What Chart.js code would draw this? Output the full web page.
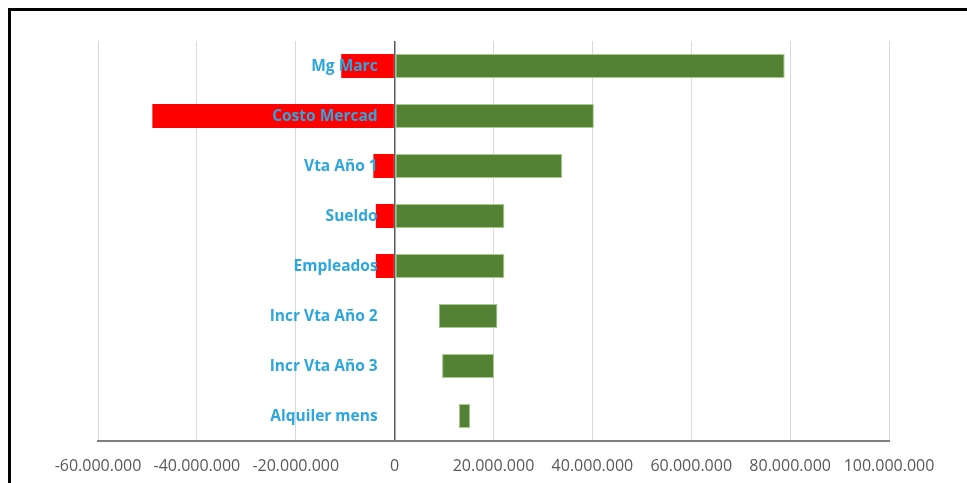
<!DOCTYPE html>
<html>
<head>
<meta charset="utf-8">
<script src="https://cdn.jsdelivr.net/npm/chart.js@4/dist/chart.umd.min.js"></script>
<style>
  html, body { margin: 0; padding: 0; background: #fff; }
  #wrap { position: relative; width: 967px; height: 483px; }
  #frame { position: absolute; left: 8px; top: 8px; right: 0; bottom: 0;
           border-left: 3px solid #000; border-top: 3px solid #000; pointer-events: none; }
</style>
</head>
<body>
<div id="wrap">
  <canvas id="tornado" width="967" height="483"></canvas>
  <div id="frame"></div>
</div>
<script>
// variables del gráfico tornado
const categorias = ['Mg Marc', 'Costo Mercad', 'Vta Año 1', 'Sueldo', 'Empleados',
                    'Incr Vta Año 2', 'Incr Vta Año 3', 'Alquiler mens'];
// tramo negativo (rojo): desde este valor hasta 0
const rojoDesde = [-10800000, -49000000, -4300000, -3800000, -3800000, null, null, null];
// tramo verde: inicio y fin
const verdeDesde = [0, 0, 0, 0, 0, 8900000, 9600000, 13000000];
const verdeHasta = [78900000, 40300000, 33900000, 22200000, 22200000, 20800000, 20100000, 15300000];

function formatoPuntos(v) {
    const s = String(Math.abs(v)).replace(/\B(?=(\d{3})+(?!\d))/g, '.');
    return (v < 0 ? '-' : '') + s;
}

// etiquetas de categoría junto al eje cero
const etiquetasCero = {
    id: 'etiquetasCero',
    afterDatasetsDraw(chart) {
        const ctx = chart.ctx;
        const x0 = chart.scales.x.getPixelForValue(0);
        ctx.save();
        ctx.font = 'bold 15.5px "Open Sans"';
        ctx.fillStyle = '#2ca6de';
        ctx.textAlign = 'right';
        ctx.textBaseline = 'middle';
        categorias.forEach(function(c, i) {
            ctx.fillText(c, x0 - 17, chart.scales.y.getPixelForValue(i) + 1);
        });
        ctx.restore();
    }
};

const ctx = document.getElementById('tornado').getContext('2d');
new Chart(ctx, {
    type: 'bar',
    data: {
        labels: categorias,
        datasets: [
            {
                label: 'Negativo',
                data: rojoDesde.map(v => v === null ? null : [v, 0]),
                backgroundColor: '#ff0000',
                grouped: false,
                barPercentage: 0.8,
                categoryPercentage: 0.6
            },
            {
                label: 'Positivo',
                data: verdeDesde.map((v, i) => [v, verdeHasta[i]]),
                backgroundColor: '#548235',
                borderColor: '#a9c98f',
                borderWidth: 1,
                borderSkipped: false,
                grouped: false,
                barPercentage: 0.8,
                categoryPercentage: 0.6
            }
        ]
    },
    options: {
        indexAxis: 'y',
        responsive: false,
        animation: false,
        layout: { padding: { left: 98, right: 78, top: 41, bottom: 0 } },
        scales: {
            x: {
                min: -60000000,
                max: 100000000,
                afterFit: function(s) { s.height = 42; },
                ticks: {
                    stepSize: 20000000,
                    padding: 16,
                    maxRotation: 0,
                    minRotation: 0,
                    autoSkip: false,
                    color: '#595959',
                    font: { family: '"Open Sans"', size: 16 },
                    callback: function(v) { return formatoPuntos(v); }
                },
                grid: {
                    drawTicks: false,
                    color: c => c.tick && c.tick.value === 0 ? '#595959' : '#d9d9d9',
                    lineWidth: c => c.tick && c.tick.value === 0 ? 1.5 : 1
                },
                border: { color: '#7f7f7f', width: 2 }
            },
            y: {
                display: false
            }
        },
        plugins: {
            legend: { display: false },
            tooltip: { enabled: true }
        }
    },
    plugins: [etiquetasCero]
});
</script>
</body>
</html>
